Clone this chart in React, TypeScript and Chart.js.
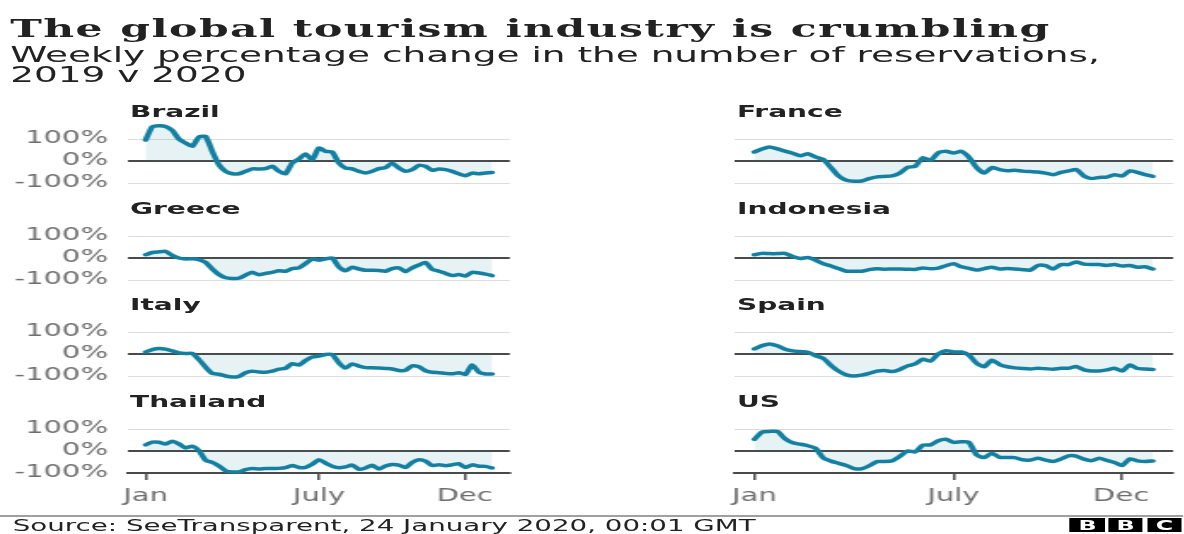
import React, { useEffect, useRef } from "react";
import { Chart, registerables } from "chart.js";

Chart.register(...registerables);

// ---------- data ----------
const WEEK_COUNT = 53;
const weekDays: number[] = Array.from({ length: WEEK_COUNT }, (_, i) => i * 7);

const X_TICK_DAYS = [0, 182, 335];
const X_TICK_LABELS = ["Jan", "July", "Dec"];
const Y_TICKS = [-100, 0, 100];

const brazil = [95, 155, 160, 157, 139, 100, 82, 67, 109, 112, 44, -17, -47, -58, -58, -47, -36, -36, -35, -24, -47, -58, -9, 9, 32, 6, 59, 44, 41, -9, -32, -36, -47, -55, -47, -35, -30, -10, -32, -47, -39, -20, -24, -42, -36, -39, -47, -58, -67, -55, -58, -55, -52];
const france = [41, 55, 64, 55, 45, 35, 24, 33, 18, 7, -30, -68, -87, -92, -91, -80, -72, -70, -68, -55, -29, -24, 15, 3, 38, 44, 36, 44, 18, -30, -55, -30, -39, -44, -42, -46, -48, -50, -55, -62, -52, -45, -39, -68, -80, -75, -73, -62, -68, -45, -52, -62, -70];
const greece = [15, 25, 28, 30, 12, 0, -5, -3, -8, -20, -50, -75, -90, -93, -92, -78, -65, -76, -70, -65, -58, -60, -48, -45, -25, -5, -10, -4, 0, -40, -58, -42, -50, -56, -56, -57, -60, -48, -45, -62, -45, -32, -20, -52, -60, -70, -80, -75, -82, -65, -68, -73, -80];
const indonesia = [15, 21, 20, 20, 21, 7, -2, 2, -10, -26, -36, -48, -60, -60, -60, -53, -49, -51, -50, -50, -51, -52, -45, -49, -46, -35, -26, -40, -47, -55, -48, -42, -50, -48, -50, -53, -55, -34, -35, -50, -30, -30, -18, -28, -30, -30, -34, -30, -36, -34, -42, -40, -50];
const italy = [9, 20, 25, 22, 14, 5, 2, 3, -25, -60, -88, -92, -100, -105, -102, -85, -78, -82, -83, -78, -69, -65, -44, -50, -30, -14, -10, -2, -3, -40, -64, -45, -55, -62, -62, -64, -66, -68, -75, -74, -54, -58, -76, -83, -85, -88, -90, -85, -93, -50, -82, -91, -91];
const spain = [23, 38, 46, 37, 22, 14, 11, 8, -8, -20, -52, -78, -95, -100, -96, -88, -78, -75, -80, -70, -54, -45, -24, -32, 0, 15, 9, 9, -5, -42, -58, -28, -48, -58, -63, -66, -68, -65, -67, -69, -65, -65, -57, -72, -77, -77, -72, -65, -77, -50, -66, -68, -70];
const thailand = [28, 40, 40, 32, 44, 32, 14, 22, 2, -42, -52, -68, -90, -95, -95, -85, -80, -82, -80, -80, -79, -76, -66, -75, -74, -60, -40, -55, -69, -76, -72, -64, -83, -77, -65, -82, -68, -61, -64, -75, -52, -40, -46, -66, -62, -67, -63, -58, -75, -63, -69, -70, -77];
const us = [53, 86, 89, 89, 56, 37, 31, 24, 12, -32, -46, -56, -66, -80, -81, -67, -48, -48, -44, -24, 0, -4, 27, 28, 47, 53, 39, 42, 40, -18, -30, -10, -29, -30, -30, -40, -41, -33, -41, -48, -37, -22, -23, -37, -44, -33, -43, -52, -66, -36, -45, -48, -45];

const COUNTRIES = ["Brazil", "France", "Greece", "Indonesia", "Italy", "Spain", "Thailand", "US"];
const SERIES = [brazil, france, greece, indonesia, italy, spain, thailand, us];

// ---------- layout ----------
const S = 1.7; // horizontal stretch of the whole graphic
const W = 1184 / S;
const LEFT_AREA = { x0: 128 / S, x1: 511 / S };
const RIGHT_AREA = { x0: 735 / S, x1: 1175 / S };
const ZERO_Y = [161, 258, 354, 451];
const PX100 = 22;
const CHART_H = 60;
const Y_MIN = -100;
const Y_MAX = (CHART_H / PX100) * 100 - 100;
const X_MIN = -18;
const X_MAX = 382.5;
const PAD = 26;
const X_AXIS_H = 40;

const LINE = "#1380A1";
const FILL = "rgba(19,128,161,0.1)";
const DARK = "#4a4a4a";
const LIGHT = "#dcdcdc";
const TICK_TXT = "#6e6e6e";
const SANS = '"DejaVu Sans", sans-serif';

function Panel({ index }: { index: number }) {
  const ref = useRef<HTMLCanvasElement>(null);
  const col = index % 2;
  const row = Math.floor(index / 2);
  const bottom = row === 3;
  const area = col === 0 ? LEFT_AREA : RIGHT_AREA;
  const axisW = col === 0 ? area.x0 : 30;
  const left = area.x0 - axisW;
  const width = area.x1 - left;
  const y0 = ZERO_Y[row];
  const top = y0 - (CHART_H - PX100) - PAD;
  const height = PAD + CHART_H + (bottom ? X_AXIS_H : PAD);
  const values = SERIES[index];

  useEffect(() => {
    const chart = new Chart(ref.current as HTMLCanvasElement, {
      type: "line",
      data: {
        datasets: [
          {
            data: weekDays.map((d, i) => ({ x: d, y: values[i] })),
            borderColor: LINE,
            backgroundColor: FILL,
            fill: "origin",
            borderWidth: 3.5,
            pointRadius: 0,
            tension: 0.2,
            clip: false,
            borderJoinStyle: "round",
            borderCapStyle: "round",
          } as any,
        ],
      },
      options: {
        responsive: true,
        maintainAspectRatio: false,
        animation: false,
        events: [],
        layout: { padding: { top: PAD, bottom: bottom ? 0 : PAD, left: 0, right: 0 } },
        plugins: { legend: { display: false }, tooltip: { enabled: false }, title: { display: false } },
        scales: {
          x: {
            type: "linear",
            min: X_MIN,
            max: X_MAX,
            display: bottom,
            afterBuildTicks: (s: any) => {
              s.ticks = X_TICK_DAYS.map((v) => ({ value: v }));
            },
            afterFit: (s: any) => {
              if (bottom) s.height = X_AXIS_H;
            },
            ticks: {
              callback: (_v: any, i: number) => X_TICK_LABELS[i],
              color: TICK_TXT,
              font: { family: SANS, size: 17 },
              padding: 6,
              maxRotation: 0,
              autoSkip: false,
            },
            grid: { drawOnChartArea: false, drawTicks: true, tickLength: 7, color: DARK, lineWidth: 1.5 },
            border: { display: true, color: DARK, width: 2 },
          },
          y: {
            type: "linear",
            min: Y_MIN,
            max: Y_MAX,
            afterBuildTicks: (s: any) => {
              s.ticks = Y_TICKS.map((v) => ({ value: v }));
            },
            afterFit: (s: any) => {
              s.width = axisW;
            },
            ticks: {
              display: col === 0,
              callback: (v: any) => `${v}%`,
              color: TICK_TXT,
              font: { family: SANS, size: 17 },
              padding: 12,
            },
            grid: {
              drawTicks: false,
              color: (c: any) => (c.tick && c.tick.value === 0 ? DARK : LIGHT),
              lineWidth: (c: any) => (c.tick && c.tick.value === 0 ? 2 : 1),
            },
            border: { display: false },
          },
        },
      } as any,
    });
    return () => chart.destroy();
  }, []);

  return (
    <div style={{ position: "absolute", left, top, width, height }}>
      <canvas ref={ref} />
    </div>
  );
}

function Label({ index }: { index: number }) {
  const col = index % 2;
  const row = Math.floor(index / 2);
  return (
    <div
      style={{
        position: "absolute",
        left: col === 0 ? 130 / S : 737 / S,
        top: ZERO_Y[row] - 57,
        fontFamily: SANS,
        fontWeight: "bold",
        fontSize: 16.5,
        lineHeight: "16.5px",
        color: "#222",
        whiteSpace: "nowrap",
      }}
    >
      {COUNTRIES[index]}
    </div>
  );
}

const BBC_BOXES = [
  { x: 1070, t: "B" },
  { x: 1108, t: "B" },
  { x: 1147, t: "C" },
];

export default function App() {
  return (
    <div
      style={{
        position: "fixed",
        left: 0,
        top: 0,
        width: 1184,
        height: 534,
        background: "#fff",
        overflow: "hidden",
      }}
    >
      <div
        style={{
          position: "absolute",
          left: 0,
          top: 0,
          width: W,
          height: 534,
          transform: `scaleX(${S})`,
          transformOrigin: "0 0",
        }}
      >
        <div
          style={{
            position: "absolute",
            left: 6,
            top: 16,
            fontFamily: '"DejaVu Serif", serif',
            fontWeight: "bold",
            fontSize: 25,
            lineHeight: "25px",
            letterSpacing: "0.85px",
            color: "#222",
            whiteSpace: "nowrap",
          }}
        >
          The global tourism industry is crumbling
        </div>
        <div
          style={{
            position: "absolute",
            left: 6,
            top: 45.4,
            fontFamily: SANS,
            fontSize: 22,
            lineHeight: "20px",
            color: "#222",
            whiteSpace: "nowrap",
          }}
        >
          Weekly percentage change in the number of reservations,
          <br />
          2019 v 2020
        </div>

        {SERIES.map((_, i) => (
          <Panel key={"p" + i} index={i} />
        ))}
        {SERIES.map((_, i) => (
          <Label key={"l" + i} index={i} />
        ))}

        <div style={{ position: "absolute", left: 0, top: 515, width: W, height: 2, background: "#a0a0a0" }} />
        <div
          style={{
            position: "absolute",
            left: 7.5,
            top: 518,
            fontFamily: SANS,
            fontSize: 16.3,
            lineHeight: "16.5px",
            color: "#222",
            whiteSpace: "nowrap",
          }}
        >
          Source: SeeTransparent, 24 January 2020, 00:01 GMT
        </div>
        {BBC_BOXES.map((b, i) => (
          <div
            key={"b" + i}
            style={{
              position: "absolute",
              left: b.x / S,
              top: 518,
              width: 35 / S,
              height: 14,
              background: "#000",
              color: "#fff",
              fontFamily: SANS,
              fontWeight: "bold",
              fontSize: 14,
              lineHeight: "14px",
              textAlign: "center",
            }}
          >
            {b.t}
          </div>
        ))}
      </div>
    </div>
  );
}
